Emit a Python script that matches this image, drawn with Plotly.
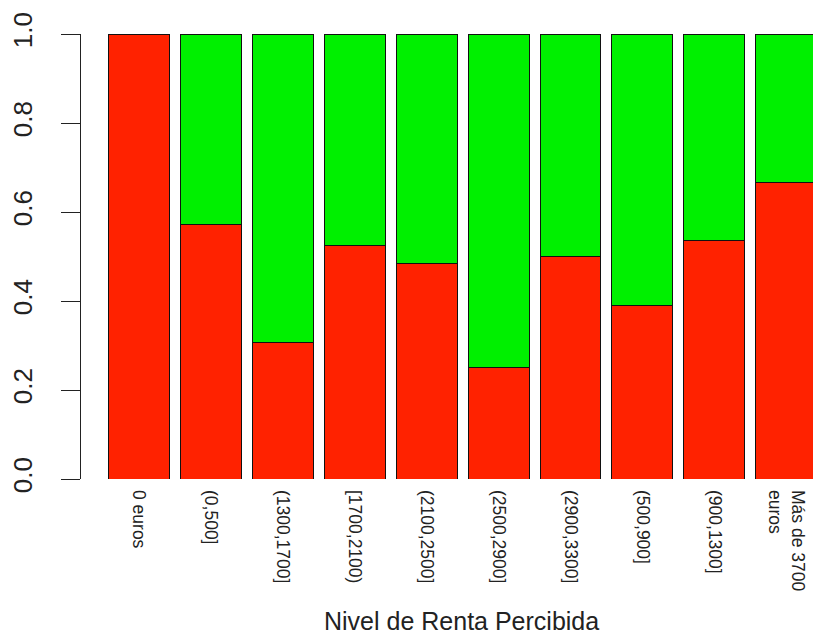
import plotly.graph_objects as go

categories = ["0 euros", "(0,500]", "(1300,1700]", "[1700,2100)", "(2100,2500]",
              "(2500,2900]", "(2900,3300]", "(500,900]", "(900,1300]", "Más de 3700<br>euros"]
red_values = [1.0, 0.571, 0.306, 0.524, 0.485, 0.25, 0.50, 0.389, 0.537, 0.667]
green_values = [0.0, 0.429, 0.694, 0.476, 0.515, 0.75, 0.50, 0.611, 0.463, 0.333]
y_ticks = [0.0, 0.2, 0.4, 0.6, 0.8, 1.0]

font = "Liberation Sans, Arial, Helvetica, sans-serif"

fig = go.Figure()
fig.add_trace(go.Bar(x=categories, y=red_values, marker=dict(color="#ff2200", line=dict(color="#111111", width=1)), showlegend=False))
fig.add_trace(go.Bar(x=categories, y=green_values, marker=dict(color="#00f000", line=dict(color="#111111", width=1)), showlegend=False))

# page body has an 8px margin, so the figure is sized/offset to compensate
fig.update_layout(
    barmode="stack",
    bargap=0.153,
    width=813, height=626,
    margin=dict(l=73, r=0, t=26, b=155),
    paper_bgcolor="white", plot_bgcolor="white",
    font=dict(family=font, color="#222222"),
    xaxis=dict(range=[-0.8, 9.48], tickangle=90, tickfont=dict(size=17.5), showline=False,
               showgrid=False, ticks="", ticklabelstandoff=10, fixedrange=True, automargin=False),
    yaxis=dict(range=[0, 1], tickvals=y_ticks, tickformat=".1f", tickangle=-90,
               tickfont=dict(size=26), showline=True, linecolor="#222222", linewidth=1,
               ticks="outside", ticklen=19, tickcolor="#222222", showgrid=False,
               zeroline=False, ticklabelstandoff=19, automargin=False),
    annotations=[dict(text="Nivel de Renta Percibida", x=(461 - 81) / 740, y=-(621 - 479) / 445,
                      xref="paper", yref="paper",
                      showarrow=False, font=dict(size=25), xanchor="center", yanchor="middle")],
)

fig.write_html("out.html")
